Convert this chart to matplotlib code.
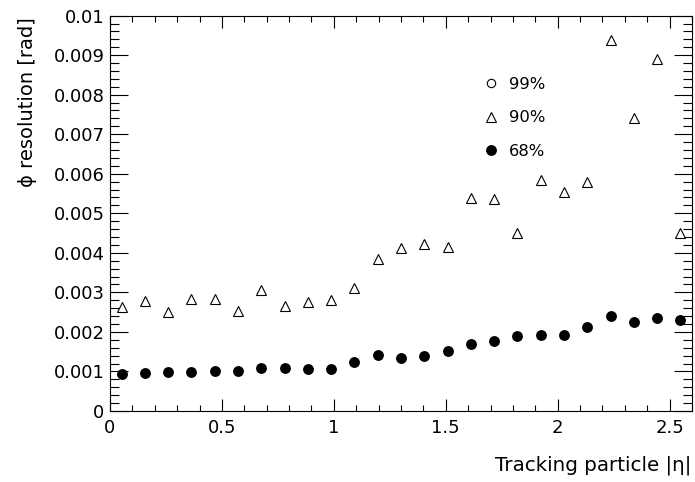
import matplotlib
matplotlib.use("Agg")
import matplotlib.pyplot as plt
from matplotlib.ticker import MultipleLocator, FormatStrFormatter
import numpy as np

plt.rcParams['font.family'] = ['DejaVu Sans']

# |eta| bins: 25 bins from 0 to 2.6
eta_edges = np.linspace(0, 2.6, 26)
eta_centers = 0.5 * (eta_edges[:-1] + eta_edges[1:])

# phi resolution values [rad]
res_68 = [0.000944, 0.00097, 0.00099, 0.000995, 0.00101, 0.00101, 0.0011, 0.00109,
          0.00105, 0.00106, 0.00123, 0.00141, 0.00135, 0.00138, 0.00153, 0.0017,
          0.00178, 0.00189, 0.00191, 0.00192, 0.00212, 0.0024, 0.00224, 0.00235, 0.0023]
res_90 = [0.00264, 0.00278, 0.0025, 0.00283, 0.00283, 0.00253, 0.00307, 0.00266,
          0.00276, 0.00281, 0.00312, 0.00385, 0.00413, 0.00422, 0.00416, 0.00538,
          0.00536, 0.0045, 0.00583, 0.00554, 0.00578, 0.00939, 0.00741, 0.0089, 0.0045]
# 99% series is entirely off scale (above 0.01)
res_99 = []

fig = plt.figure(figsize=(6.95, 4.82), dpi=100)
ax = fig.add_axes([110 / 695, 1 - 411 / 482, 582 / 695, 395.4 / 482])

ax.plot(eta_centers[:len(res_99)], res_99, 'o', mfc='white', mec='black', ms=6.0, mew=0.8,
        ls='none', label='99%')
ax.plot(eta_centers, res_90, '^', mfc='white', mec='black', ms=7.3, mew=0.8, ls='none', label='90%')
ax.plot(eta_centers, res_68, 'o', color='black', ms=6.8, ls='none', label='68%')

ax.set_xlim(0, 2.6)
ax.set_ylim(0, 0.01)

ax.xaxis.set_major_locator(MultipleLocator(0.5))
ax.xaxis.set_minor_locator(MultipleLocator(0.1))
ax.yaxis.set_major_locator(MultipleLocator(0.001))
ax.yaxis.set_minor_locator(MultipleLocator(0.0002))
ax.xaxis.set_major_formatter(FormatStrFormatter('%g'))
ax.yaxis.set_major_formatter(FormatStrFormatter('%g'))

ax.tick_params(axis='both', which='both', direction='in', top=True, right=True,
               labelsize=13, width=0.8)
ax.tick_params(axis='x', which='major', length=8.6, pad=6)
ax.tick_params(axis='x', which='minor', length=4.3)
ax.tick_params(axis='y', which='major', length=12.7, pad=4)
ax.tick_params(axis='y', which='minor', length=6.5)
for sp in ax.spines.values():
    sp.set_linewidth(0.8)

fig.text(691 / 695, 1 - 465 / 482, 'Tracking particle |η|', ha='right', va='center', fontsize=14.3)
fig.text(28 / 695, 1 - 17 / 482, 'ϕ resolution [rad]', ha='center', va='top',
         rotation=90, fontsize=14)

ax.legend(loc='upper left', bbox_to_anchor=(0.64, 0.845), frameon=False, fontsize=11.8,
          handlelength=1.0, handletextpad=0.6, labelspacing=1.13, borderpad=0,
          borderaxespad=0)

fig.savefig('out.png', dpi=100)
